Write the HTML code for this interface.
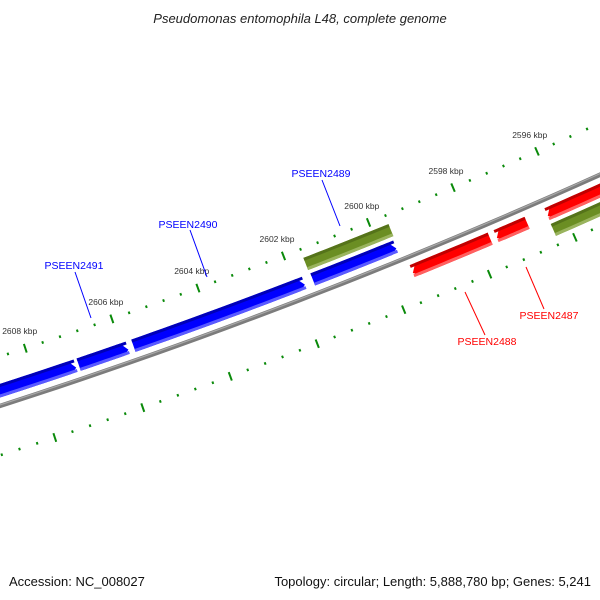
<!DOCTYPE html>
<html><head><meta charset="utf-8"><style>
html,body{margin:0;padding:0;background:#fff;}
svg{display:block;font-family:"Liberation Sans","DejaVu Sans",sans-serif;}
</style></head><body>
<svg id="map" width="600" height="600" viewBox="0 0 600 600" xmlns="http://www.w3.org/2000/svg">
<rect width="600" height="600" fill="#fff"/>
<text x="300" y="23" text-anchor="middle" font-size="13" font-style="italic" fill="#222">Pseudomonas entomophila L48, complete genome</text>
<g id="ticks"></g>
<g id="backbone"></g>
<g id="genes"></g>
<g id="labels"></g>
<text x="9" y="586" font-size="13" fill="#111">Accession: NC_008027</text>
<text x="591" y="586" font-size="13" fill="#111" text-anchor="end">Topology: circular; Length: 5,888,780 bp; Genes: 5,241</text>
</svg>
<script>
// ---- data ----
const kbpLabels = [2596, 2598, 2600, 2602, 2604, 2606, 2608];
const geneNames = ["blue-1","PSEEN2491","PSEEN2490","PSEEN2489","PSEEN2489-cds","PSEEN2488","PSEEN2487","red-3","green-2"];
const geneStart = [2609.8, 2607.01, 2605.75, 2601.59, 2601.61, 2599.52, 2597.55, 2596.35, 2596.36];
const geneEnd   = [2607.08, 2605.88, 2601.79, 2599.65, 2599.61, 2597.69, 2596.82, 2593.5, 2593.5];
const geneStrand = [1, 1, 1, 1, 1, -1, -1, -1, -1];
const geneKind  = ["gene","gene","gene","gene","cds","gene","gene","gene","cds"];
const labelText = ["PSEEN2491","PSEEN2490","PSEEN2489","PSEEN2488","PSEEN2487"];
const labelGene = [1, 2, 3, 5, 6];

// ---- geometry (axis functions) ----
const CX = -1768, CY = -5076, R0 = 5760;
const TH0 = 1.2515, P0 = 2608, DTH = 0.0080;
function theta(p){ return TH0 + (p - P0) * DTH; }
function pt(p, r){ const t = theta(p); return [CX + r*Math.cos(t), CY + r*Math.sin(t)]; }
const NS = "http://www.w3.org/2000/svg";
function mk(tag, attrs, parent){ const e = document.createElementNS(NS, tag); for (const k in attrs) e.setAttribute(k, attrs[k]); parent.appendChild(e); return e; }

// ruler ticks
const tg = document.getElementById('ticks');
[R0 - 47, R0 + 47].forEach((rr, ri) => {
  for (let i = 0; i <= 60; i++) {
    const p = 2590 + i * 0.4;
    const major = (i % 5 === 0);
    const h = major ? 4.5 : 1.3;
    const a = pt(p, rr - h), b = pt(p, rr + h);
    const l = mk('line', {x1:a[0].toFixed(2), y1:a[1].toFixed(2), x2:b[0].toFixed(2), y2:b[1].toFixed(2), stroke:'#0a8a0a', 'stroke-width': 2}, tg);
    
    
  }
});
kbpLabels.forEach(k => {
  const q = pt(k, R0 - 65);
  const t = mk('text', {x:q[0].toFixed(1), y:(q[1]+3).toFixed(1), 'font-size':8.5, fill:'#333', 'text-anchor':'middle'}, tg);
  t.textContent = k + ' kbp';
  
  
});

// backbone
const bg = document.getElementById('backbone');
function arcPath(p1, p2, r){
  let d = '';
  for (let i = 0; i <= 40; i++) { const p = p1 + (p2 - p1) * i / 40; const q = pt(p, r); d += (i ? 'L' : 'M') + q[0].toFixed(2) + ',' + q[1].toFixed(2); }
  return d;
}
const bb = mk('path', {d: arcPath(2590, 2612, R0), stroke:'#7c7c7c', 'stroke-width':4.5, fill:'none'}, bg);


const bh = mk('path', {d: arcPath(2590, 2612, R0 - 1), stroke:'#a8a8a8', 'stroke-width':1.2, fill:'none'}, bg);



// genes
const gg = document.getElementById('genes');
const colors = {
  blue: ['#0000ff', '#0000b8', '#5a5aff'],
  red: ['#ff0000', '#c00000', '#ff6060'],
  green: ['#6b8e23', '#55731a', '#9ab45e']
};
function band(pa, pb, r1, r2, arrowAt){
  // pa > pb (higher kbp on left). arrowAt: 'end' (at pb), 'start' (at pa) or null
  const head = 6 / (R0 * DTH);
  let a = pa, b = pb;
  const pts = [];
  const N = 16;
  let s1 = a, s2 = b;
  if (arrowAt === 'end') s2 = b + head;
  if (arrowAt === 'start') s1 = a - head;
  for (let i = 0; i <= N; i++) pts.push(pt(s1 + (s2 - s1) * i / N, r1));
  if (arrowAt === 'end') pts.push(pt(b, (r1 + r2) / 2 + 2));
  for (let i = N; i >= 0; i--) pts.push(pt(s1 + (s2 - s1) * i / N, r2));
  if (arrowAt === 'start') pts.push(pt(a, (r1 + r2) / 2 + 2));
  return pts.map(q => q[0].toFixed(2) + ',' + q[1].toFixed(2)).join(' ');
}
geneStart.forEach((s, i) => {
  const e = geneEnd[i];
  const cds = geneKind[i] === 'cds';
  const col = cds ? colors.green : (geneStrand[i] > 0 ? colors.blue : colors.red);
  const r1 = geneStrand[i] > 0 ? (cds ? R0 - 38 : R0 - 21) : (cds ? R0 + 25 : R0 + 8);
  const r2 = r1 + 13;
  const arrow = cds ? null : (geneStrand[i] > 0 ? 'end' : 'start');
  const g = mk('g', {}, gg);
  
  
  mk('polygon', {points: band(s, e, r1, r2, arrow), fill: col[0]}, g);
  mk('polygon', {points: band(s, e, r1, r1 + 3, null), fill: col[1]}, g);
  mk('polygon', {points: band(s, e, r2 - 3, r2, null), fill: col[2]}, g);
});

// feature labels with leader lines
const lg = document.getElementById('labels');
const labelX = [74, 188, 321, 487, 549];
const labelY = [269, 228, 177, 345, 319];
const lineA = [[75,272],[190,230],[322,180],[485,335],[544,309]];
const lineB = [[91,318],[207,277],[340,226],[465,292],[526,267]];
labelText.forEach((t, i) => {
  const c = geneStrand[labelGene[i]] > 0 ? '#0000ff' : '#ff0000';
  const ln = mk('line', {x1: lineA[i][0], y1: lineA[i][1], x2: lineB[i][0], y2: lineB[i][1], stroke: c, 'stroke-width': 1}, lg);
  
  
  const tx = mk('text', {x: labelX[i], y: labelY[i], 'font-size': 10.5, fill: c, 'text-anchor': 'middle'}, lg);
  tx.textContent = t;
  
  
});
</script>
</body></html>
